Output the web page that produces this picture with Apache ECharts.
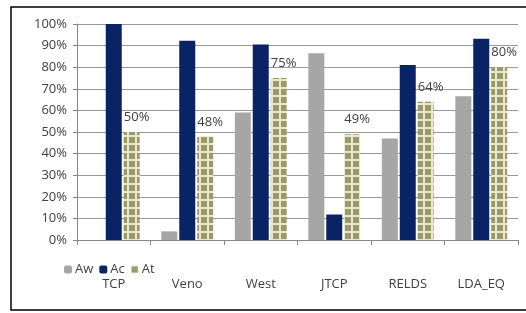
<!DOCTYPE html>
<html>
<head>
<meta charset="utf-8">
<script src="https://cdn.jsdelivr.net/npm/echarts@6/dist/echarts.min.js"></script>
<style>
  html, body { margin: 0; padding: 0; background: #fff; }
  #main { width: 526px; height: 313px; }
</style>
</head>
<body>
<div id="main"></div>
<script>
var categories = ['TCP', 'Veno', 'West', 'JTCP', 'RELDS', 'LDA_EQ'];
var awValues = [0, 0.04, 0.59, 0.865, 0.47, 0.665];
var acValues = [1.0, 0.922, 0.905, 0.118, 0.81, 0.932];
var atValues = [0.50, 0.48, 0.75, 0.49, 0.64, 0.80];

// checkered fill for At bars
function makePattern() {
  var c = document.createElement('canvas');
  c.width = 8;
  c.height = 8;
  var ctx = c.getContext('2d');
  ctx.fillStyle = '#e9e8cc';
  ctx.fillRect(0, 0, 8, 8);
  ctx.fillStyle = '#9a996b';
  ctx.fillRect(1, 1, 6, 6);
  return c;
}
var pattern = { image: makePattern(), repeat: 'repeat' };

var chart = echarts.init(document.getElementById('main'));
var font = "'Open Sans', 'Noto Sans', sans-serif";

chart.setOption({
  animation: false,
  textStyle: { fontFamily: font },
  graphic: [{
    type: 'rect',
    shape: { x: 11, y: 7, width: 600, height: 303 },
    style: { fill: 'none', stroke: '#000', lineWidth: 1.5 },
    silent: true
  }],
  legend: {
    left: 59,
    top: 258,
    itemWidth: 8,
    itemHeight: 8,
    itemGap: 6,
    textStyle: { fontSize: 13, color: '#404040', padding: [0, 0, 0, -2] },
    data: ['Aw', 'Ac', 'At']
  },
  grid: {
    left: 77,
    right: 8,
    top: 24,
    bottom: 73
  },
  xAxis: {
    type: 'category',
    data: categories,
    axisLine: { lineStyle: { color: '#888' } },
    axisTick: { show: true, length: 5, lineStyle: { color: '#888' } },
    axisLabel: { fontSize: 13, color: '#404040', margin: 38 }
  },
  yAxis: {
    type: 'value',
    min: 0,
    max: 1,
    interval: 0.1,
    axisLine: { show: true, lineStyle: { color: '#888' } },
    axisTick: { show: true, length: 4, lineStyle: { color: '#888' } },
    axisLabel: {
      fontSize: 13,
      color: '#404040',
      margin: 10,
      formatter: function (v) { return Math.round(v * 100) + '%'; }
    },
    splitLine: { lineStyle: { color: '#999' } }
  },
  series: [{
    name: 'Aw',
    type: 'bar',
    data: awValues,
    barWidth: 16,
    barGap: '12%',
    itemStyle: { color: '#a6a6a6' }
  }, {
    name: 'Ac',
    type: 'bar',
    data: acValues,
    barWidth: 16,
    barGap: '12%',
    itemStyle: { color: '#0a2365' }
  }, {
    name: 'At',
    type: 'bar',
    data: atValues,
    barWidth: 16,
    barGap: '12%',
    itemStyle: { color: pattern },
    label: {
      show: true,
      position: 'top',
      distance: 8,
      offset: [5, 0],
      fontSize: 13,
      color: '#404040',
      formatter: function (p) { return Math.round(p.value * 100) + '%'; }
    }
  }]
});
</script>
</body>
</html>
